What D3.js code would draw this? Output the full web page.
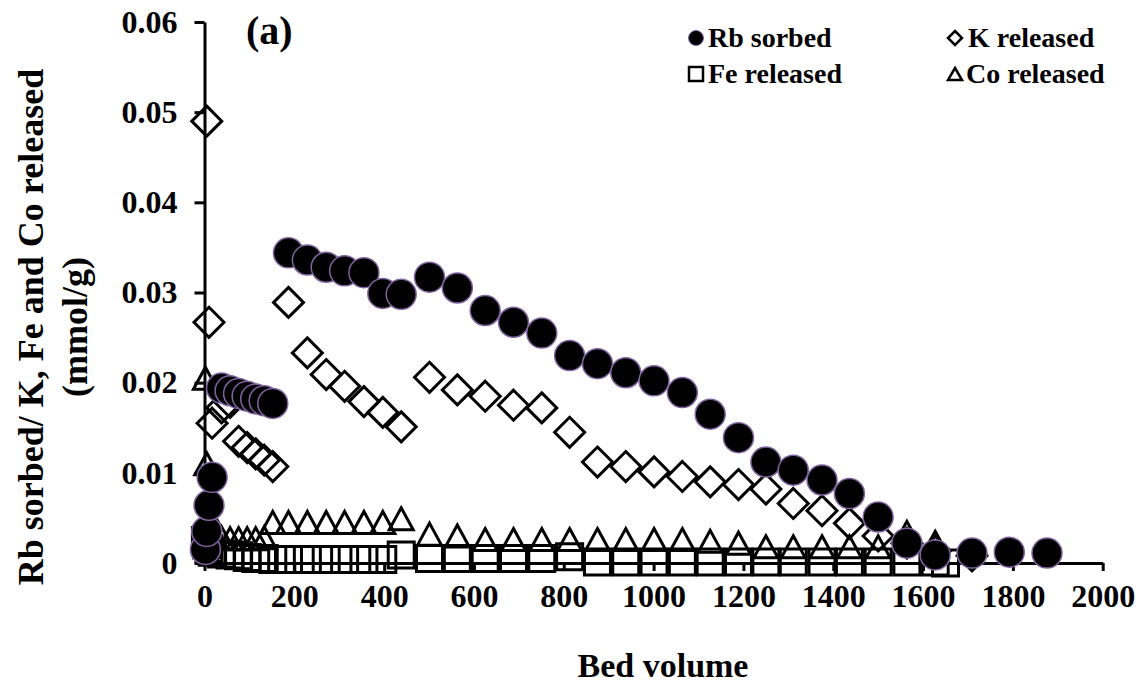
<!DOCTYPE html>
<html>
<head>
<meta charset="utf-8">
<script src="https://cdn.jsdelivr.net/npm/d3@7"></script>
<style>
  body { margin: 0; background: #fff; }
  text { font-family: "Liberation Serif", "Times New Roman", serif; font-weight: bold; fill: #000; }
</style>
</head>
<body>
<svg id="chart" width="1145" height="699"></svg>
<script>
// Bed volumes shared by all four series
const bedVolume = [2, 5, 10, 17, 38, 57, 76, 95, 114, 133, 152, 187, 229, 271, 312, 355, 397, 438,
  501, 563, 625, 688, 751, 813, 875, 938, 1001, 1064, 1126, 1189, 1250, 1311, 1375, 1436, 1500,
  1564, 1627, 1650, 1709, 1792, 1876];

// mmol/g
const rbSorbed = [0.0015, 0.0035, 0.0064, 0.0095,
  0.0194, 0.0191, 0.0188, 0.0185, 0.0182, 0.0180, 0.0177,
  0.0344, 0.0336, 0.0328, 0.0324, 0.0322, 0.0299, 0.0298,
  0.0317, 0.0305, 0.0280, 0.0267, 0.0255, 0.0230, 0.0221, 0.0211, 0.0202, 0.0189, 0.0165, 0.0139,
  0.0112, 0.0103, 0.0092, 0.0077, 0.0051,
  0.0022, 0.0009, null, 0.0011, 0.0012, 0.0011];

const kReleased = [null, 0.0490, 0.0267, 0.0155,
  0.0172, 0.0178, 0.0135, 0.0128, 0.0121, 0.0114, 0.0107,
  0.0289, 0.0233, 0.0209, 0.0196, 0.0179, 0.0167, 0.0151,
  0.0206, 0.0192, 0.0185, 0.0175, 0.0172, 0.0145, 0.0112, 0.0107, 0.0101, 0.0096, 0.0090, 0.0087,
  0.0082, 0.0066, 0.0058, 0.0044, 0.0030,
  0.0022, 0.0013, null, 0.0008, null, null];

const feReleased = [0.0025, 0.0020, 0.0016, 0.0012,
  0.0010, 0.0009, 0.0008, 0.0006, 0.0005, 0.0005, 0.0004,
  0.0004, 0.0004, 0.0004, 0.0004, 0.0004, 0.0004, 0.0009,
  0.0005, 0.0005, 0.0005, 0.0005, 0.0005, 0.0007, 0.0001, 0.0001, 0.0001, 0.0001, 0.0001, 0.0001,
  0.0001, 0.0001, 0.0001, 0.0001, 0.0001,
  0.0001, 0.0001, 0.0000, null, null, null];

const coReleased = [0.0205, 0.0110, 0.0052, 0.0030,
  0.0028, 0.0027, 0.0027, 0.0027, 0.0027, 0.0028, 0.0045,
  0.0045, 0.0045, 0.0045, 0.0045, 0.0045, 0.0045, 0.0049,
  0.0032, 0.0030, 0.0026, 0.0026, 0.0026, 0.0026, 0.0026, 0.0026, 0.0026, 0.0026, 0.0024, 0.0022,
  0.0018, 0.0018, 0.0018, 0.0018, 0.0018,
  0.0034, 0.0023, null, null, null, null];

const xTicks = [0, 200, 400, 600, 800, 1000, 1200, 1400, 1600, 1800, 2000];
const yTicks = [0, 0.01, 0.02, 0.03, 0.04, 0.05, 0.06];

const seriesNames = ["Rb sorbed", "K released", "Fe released", "Co released"];

const svg = d3.select("#chart");

const x = d3.scaleLinear().domain([0, 2000]).range([204.5, 1102.7]);
const y = d3.scaleLinear().domain([0, 0.06]).range([563, 22]);

// Axes
const xAxis = svg.append("g")
  .attr("transform", `translate(0,${y(0)})`)
  .call(d3.axisBottom(x).tickValues(xTicks).tickSize(8).tickSizeOuter(0).tickPadding(13)
    .tickFormat(d3.format("d")));
const yAxis = svg.append("g")
  .attr("transform", `translate(${x(0)},0)`)
  .call(d3.axisLeft(y).tickValues(yTicks).tickSize(10).tickSizeOuter(0).tickPadding(17)
    .tickFormat(d => d === 0 ? "0" : d3.format(".2f")(d)));

[xAxis, yAxis].forEach(g => {
  g.select(".domain").attr("stroke", "#000").attr("stroke-width", 3);
  g.selectAll(".tick line").attr("stroke", "#000").attr("stroke-width", 3);
  g.selectAll(".tick text")
    .style("font-family", '"Liberation Serif", "Times New Roman", serif')
    .style("font-weight", "bold")
    .style("font-size", "32px")
    .attr("fill", "#000");
});

// Marker shapes
function diamondPath(h) { return `M0,${-h}L${h},0L0,${h}L${-h},0Z`; }
function squarePath(h) { return `M${-h},${-h}H${h}V${h}H${-h}Z`; }
function trianglePath(w, h) { return `M0,${-h / 2}L${w / 2},${h / 2}L${-w / 2},${h / 2}Z`; }

const points = vals => bedVolume.map((b, i) => ({ b, v: vals[i] })).filter(d => d.v !== null);

const plot = svg.append("g");

// K released (open diamonds)
plot.append("g").selectAll("path").data(points(kReleased)).join("path")
  .attr("transform", d => `translate(${x(d.b)},${y(d.v)})`)
  .attr("d", diamondPath(15))
  .attr("fill", "none").attr("stroke", "#000").attr("stroke-width", 3)
  .attr("stroke-linejoin", "miter");

// Fe released (open squares)
plot.append("g").selectAll("path").data(points(feReleased)).join("path")
  .attr("transform", d => `translate(${x(d.b)},${y(d.v)})`)
  .attr("d", squarePath(13))
  .attr("fill", "none").attr("stroke", "#000").attr("stroke-width", 3);

// Co released (open triangles)
plot.append("g").selectAll("path").data(points(coReleased)).join("path")
  .attr("transform", d => `translate(${x(d.b)},${y(d.v)})`)
  .attr("d", trianglePath(24, 22))
  .attr("fill", "none").attr("stroke", "#000").attr("stroke-width", 3)
  .attr("stroke-linejoin", "miter");

// Rb sorbed (filled circles)
plot.append("g").selectAll("circle").data(points(rbSorbed)).join("circle")
  .attr("cx", d => x(d.b)).attr("cy", d => y(d.v)).attr("r", 15)
  .attr("fill", "#000").attr("stroke", "#8064a2").attr("stroke-width", 1.5);

// Legend
const legendItems = [
  { name: seriesNames[0], mx: 696, tx: 708, ty: 47, kind: "circle" },
  { name: seriesNames[1], mx: 955, tx: 968, ty: 47, kind: "diamond" },
  { name: seriesNames[2], mx: 696, tx: 708, ty: 83, kind: "square" },
  { name: seriesNames[3], mx: 955, tx: 966, ty: 83, kind: "triangle" }
];
const legend = svg.append("g");
legendItems.forEach(it => {
  const my = it.ty - 9;
  if (it.kind === "circle") {
    legend.append("circle").attr("cx", it.mx).attr("cy", my).attr("r", 7.5)
      .attr("fill", "#000").attr("stroke", "#8064a2").attr("stroke-width", 1);
  } else {
    const d = it.kind === "diamond" ? diamondPath(7) : it.kind === "square" ? squarePath(7) : trianglePath(14, 12);
    legend.append("path").attr("transform", `translate(${it.mx},${my})`).attr("d", d)
      .attr("fill", "none").attr("stroke", "#000").attr("stroke-width", 2.5);
  }
  legend.append("text").attr("x", it.tx).attr("y", it.ty).style("font-size", "28px").text(it.name);
});

// Panel label
svg.append("text").attr("x", 246).attr("y", 44).style("font-size", "40px").text("(a)");

// Axis titles
svg.append("text").attr("x", 663).attr("y", 677).attr("text-anchor", "middle")
  .style("font-size", "34px").text("Bed volume");
const yTitle = svg.append("text").attr("transform", "translate(0,327) rotate(-90)")
  .attr("text-anchor", "middle").style("font-size", "36px");
yTitle.append("tspan").attr("x", 0).attr("y", 43).text("Rb sorbed/ K, Fe and Co released");
yTitle.append("tspan").attr("x", 0).attr("y", 87).text("(mmol/g)");
</script>
</body>
</html>
